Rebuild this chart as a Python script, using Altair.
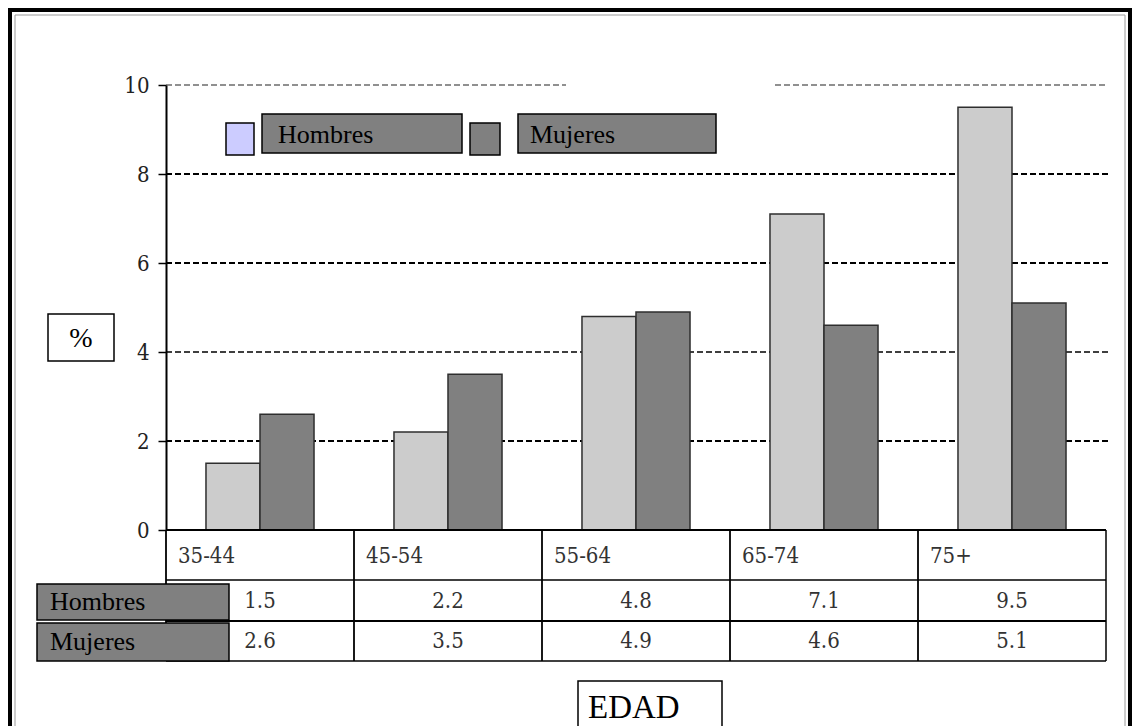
import altair as alt
import pandas as pd

# Age groups and prevalence (%) by sex
grupos = ["35-44", "45-54", "55-64", "65-74", "75+"]
hombres = [1.5, 2.2, 4.8, 7.1, 9.5]
mujeres = [2.6, 3.5, 4.9, 4.6, 5.1]
sexos = ["Hombres", "Mujeres"]
ticks_y = [0, 2, 4, 6, 8, 10]

df = pd.DataFrame({
    "edad": grupos * 2,
    "sexo": ["Hombres"] * len(grupos) + ["Mujeres"] * len(grupos),
    "valor": hombres + mujeres,
})
df["etiqueta"] = df["valor"].map(lambda v: f"{v:.1f}")
cats = pd.DataFrame({"edad": grupos})

W, H = 940, 445
NARROW = "DejaVu Serif Condensed, Liberation Sans Narrow, DejaVu Sans Condensed, sans-serif"
SERIF = "Liberation Serif, Times New Roman, serif"

x_scale = alt.Scale(domain=grupos, paddingInner=0, paddingOuter=0)
y_scale = alt.Scale(domain=[0, 10], nice=False)
y_axis = alt.Axis(
    values=ticks_y, title=None, grid=False, domainColor="black", domainWidth=2,
    tickColor="black", tickWidth=1.5, tickSize=8, labelPadding=9,
    labelFont=NARROW, labelFontSize=22, labelColor="#222",
)

one = alt.Chart(pd.DataFrame({"k": [0]}))


def box(x1, x2, y1, y2, fill, stroke="black", sw=1.5):
    return one.mark_rect(fill=fill, stroke=stroke, strokeWidth=sw).encode(
        x=alt.value(x1), x2=alt.value(x2), y=alt.value(y1), y2=alt.value(y2)
    )


def label(text, x, y, size, font=SERIF, align="left"):
    return one.mark_text(
        text=text, font=font, fontSize=size, align=align, baseline="middle", color="black"
    ).encode(x=alt.value(x), y=alt.value(y))


def hline(y, x1, x2, sw=1.5, color="black"):
    return one.mark_rule(color=color, strokeWidth=sw).encode(
        x=alt.value(x1), x2=alt.value(x2), y=alt.value(y)
    )


def grid(values, x1, x2, sw, color="black"):
    return alt.Chart(pd.DataFrame({"valor": values})).mark_rule(
        color=color, strokeWidth=sw, strokeDash=[6, 3]
    ).encode(
        y=alt.Y("valor:Q", scale=y_scale, axis=y_axis),
        x=alt.value(x1), x2=alt.value(x2),
    )


# outer frame
frame = box(-156, 964, -75, 700, fill="transparent", sw=4)
frame_inner = box(-151, 959, -70, 700, fill="transparent", stroke="#9a9a9a", sw=1)

# grouped bars
bars = alt.Chart(df).mark_bar(stroke="#2e2e2e", strokeWidth=1.5).encode(
    x=alt.X("edad:N", scale=x_scale, sort=grupos, axis=None),
    xOffset=alt.XOffset(
        "sexo:N", scale=alt.Scale(domain=sexos, paddingInner=0, paddingOuter=0.74)
    ),
    y=alt.Y("valor:Q", scale=y_scale, axis=y_axis),
    color=alt.Color(
        "sexo:N", scale=alt.Scale(domain=sexos, range=["#cccccc", "#808080"]), legend=None
    ),
)

# dashed grid lines (the top one is broken in two pieces)
grids = [
    grid([10], 0, 400, 1.2, color="#222"),
    grid([10], 609, 942, 1.2, color="#222"),
    grid([4], 0, 942, 1.4),
    grid([2, 6, 8], 0, 942, 2.2),
]

# data table under the plot
tbl_lines = [
    hline(445, 0, 940, sw=2),
    hline(495, 0, 940, sw=1.5),
    hline(536, 0, 940, sw=2),
    hline(576, 0, 940, sw=1.5),
]
col_lines = alt.Chart(cats).mark_rule(color="black", strokeWidth=1.8).encode(
    x=alt.X("edad:N", scale=x_scale, sort=grupos, bandPosition=0, axis=None),
    y=alt.value(445), y2=alt.value(576),
)
col_right = one.mark_rule(color="black", strokeWidth=1.5).encode(
    x=alt.value(940), y=alt.value(445), y2=alt.value(576)
)
cat_text = alt.Chart(cats).mark_text(
    font=NARROW, fontSize=22, align="left", baseline="middle", dx=12, color="#333"
).encode(
    x=alt.X("edad:N", scale=x_scale, sort=grupos, bandPosition=0, axis=None),
    y=alt.value(471),
    text="edad:N",
)
val_h = alt.Chart(df).transform_filter(alt.datum.sexo == "Hombres").mark_text(
    font=NARROW, fontSize=22, baseline="middle", color="#333"
).encode(
    x=alt.X("edad:N", scale=x_scale, sort=grupos, axis=None),
    y=alt.value(516),
    text="etiqueta:N",
)
val_m = alt.Chart(df).transform_filter(alt.datum.sexo == "Mujeres").mark_text(
    font=NARROW, fontSize=22, baseline="middle", color="#333"
).encode(
    x=alt.X("edad:N", scale=x_scale, sort=grupos, axis=None),
    y=alt.value(556),
    text="etiqueta:N",
)

# row headers of the table
row_boxes = [
    box(-129, 63, 499, 535, "#808080"),
    box(-129, 63, 538, 576, "#808080"),
    label("Hombres", -116, 517, 26),
    label("Mujeres", -116, 557, 26),
]

# legend boxes
legend = [
    box(60, 88, 38, 70, "#ccccff"),
    box(96, 296, 29, 68, "#808080"),
    label("Hombres", 112, 50, 26),
    box(304, 334, 38, 70, "#808080"),
    box(352, 550, 29, 68, "#808080"),
    label("Mujeres", 364, 50, 26),
]

# axis title boxes
titles = [
    box(-118, -52, 229, 276, "white"),
    label("%", -85, 254, 28, align="center"),
    box(412, 556, 596, 700, "white"),
    label("EDAD", 422, 623, 33),
]

chart = alt.layer(
    frame, frame_inner,
    *grids,
    bars,
    *tbl_lines, col_lines, col_right, cat_text, val_h, val_m,
    *row_boxes, *legend, *titles,
).properties(
    width=W,
    height=H,
    background="white",
    padding={"left": 166, "top": 85, "right": 31, "bottom": 196},
    autosize=alt.AutoSizeParams(type="none"),
).configure_view(stroke=None)

chart.save("out.html", embed_options={"renderer": "svg", "actions": False})
